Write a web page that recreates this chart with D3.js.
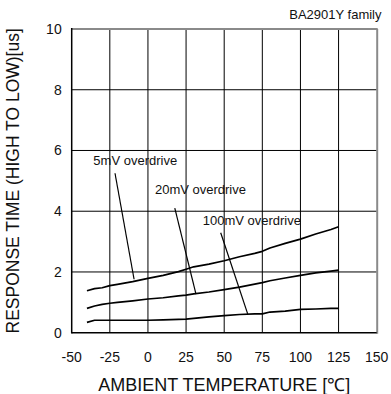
<!DOCTYPE html>
<html>
<head>
<meta charset="utf-8">
<script src="https://cdn.jsdelivr.net/npm/d3@7"></script>
<style>
  html, body { margin: 0; padding: 0; background: #fff; }
  svg { display: block; font-family: "Liberation Sans", Arial, sans-serif; }
</style>
</head>
<body>
<svg id="chart" width="391" height="394"></svg>
<script>
// ---- data ----
const temps = [-40, -35, -30, -25, -20, -10, 0, 10, 20, 25, 30, 40, 50, 60, 70, 75, 80, 90, 100, 110, 120, 125];
const resp5mV = [1.38, 1.45, 1.48, 1.55, 1.59, 1.68, 1.79, 1.89, 2.01, 2.09, 2.17, 2.26, 2.37, 2.50, 2.61, 2.68, 2.79, 2.94, 3.08, 3.25, 3.40, 3.49];
const resp20mV = [0.80, 0.88, 0.93, 0.97, 1.00, 1.05, 1.11, 1.15, 1.21, 1.24, 1.28, 1.34, 1.42, 1.50, 1.60, 1.65, 1.71, 1.80, 1.89, 1.97, 2.03, 2.06];
const resp100mV = [0.34, 0.41, 0.41, 0.41, 0.41, 0.41, 0.41, 0.42, 0.44, 0.45, 0.47, 0.52, 0.56, 0.60, 0.62, 0.62, 0.68, 0.71, 0.77, 0.78, 0.80, 0.80];
const seriesNames = ["5mV overdrive", "20mV overdrive", "100mV overdrive"];
// label anchor (temp, value) and pointer line from/to (temp, value)
const labelPos = [[-35.8, 5.52], [4.6, 4.56], [35.9, 3.55]];
const pointerFrom = [[-21.6, 5.25], [17.6, 4.10], [47.7, 3.29]];
const pointerTo = [[-9.1, 1.76], [31.5, 1.27], [65.4, 0.62]];
const xTicks = [-50, -25, 0, 25, 50, 75, 100, 125, 150];
const yTicks = [0, 2, 4, 6, 8, 10];
const xTitle = "AMBIENT TEMPERATURE [℃]";
const yTitle = "RESPONSE TIME (HIGH TO LOW)[us]";
const noteText = "BA2901Y  family";

// ---- drawing ----
const svg = d3.select("#chart");
const x = d3.scaleLinear().domain([-50, 150]).range([71.7, 376.7]);
const y = d3.scaleLinear().domain([0, 10]).range([332.7, 29]);
const ink = "#111";

// grid
const g = svg.append("g");
g.selectAll("line.vx").data(xTicks.slice(1, -1)).join("line")
  .attr("x1", d => x(d)).attr("x2", d => x(d))
  .attr("y1", y(0)).attr("y2", y(10))
  .attr("stroke", "#000").attr("stroke-width", 1);
g.selectAll("line.hy").data(yTicks.slice(1, -1)).join("line")
  .attr("x1", x(-50)).attr("x2", x(150))
  .attr("y1", d => y(d)).attr("y2", d => y(d))
  .attr("stroke", "#000").attr("stroke-width", 1);

// frame: top/right gray, left/bottom black
svg.append("line").attr("x1", x(-50)).attr("x2", x(150) + 1).attr("y1", y(10)).attr("y2", y(10))
  .attr("stroke", "#8a8a8a").attr("stroke-width", 2);
svg.append("line").attr("x1", x(150) + 0.5).attr("x2", x(150) + 0.5).attr("y1", y(10)).attr("y2", y(0) + 1)
  .attr("stroke", "#8a8a8a").attr("stroke-width", 2);
svg.append("line").attr("x1", x(-50)).attr("x2", x(-50)).attr("y1", y(10) - 1).attr("y2", y(0) + 0.75)
  .attr("stroke", "#000").attr("stroke-width", 1.5);
svg.append("line").attr("x1", x(-50)).attr("x2", x(150)).attr("y1", y(0)).attr("y2", y(0))
  .attr("stroke", "#000").attr("stroke-width", 1.5);

// tick labels
svg.append("g").selectAll("text").data(xTicks).join("text")
  .attr("x", d => x(d)).attr("y", 362.3)
  .attr("text-anchor", "middle").attr("font-size", 14).attr("fill", ink)
  .text(d => d);
svg.append("g").selectAll("text").data(yTicks).join("text")
  .attr("x", 61.7).attr("y", d => y(d) + 5)
  .attr("text-anchor", "end").attr("font-size", 14).attr("fill", ink)
  .text(d => d);

// curves
const allSeries = [resp5mV, resp20mV, resp100mV];
const line = d3.line().x(d => x(d[0])).y(d => y(d[1]));
svg.append("g").selectAll("path").data(allSeries).join("path")
  .attr("d", s => line(temps.map((t, i) => [t, s[i]])))
  .attr("fill", "none").attr("stroke", "#000").attr("stroke-width", 1.7)
  .attr("stroke-linejoin", "round");

// pointer lines
svg.append("g").selectAll("line").data(seriesNames).join("line")
  .attr("x1", (d, i) => x(pointerFrom[i][0])).attr("y1", (d, i) => y(pointerFrom[i][1]))
  .attr("x2", (d, i) => x(pointerTo[i][0])).attr("y2", (d, i) => y(pointerTo[i][1]))
  .attr("stroke", "#000").attr("stroke-width", 1.2);

// series labels
svg.append("g").selectAll("text").data(seriesNames).join("text")
  .attr("x", (d, i) => x(labelPos[i][0])).attr("y", (d, i) => y(labelPos[i][1]))
  .attr("font-size", 13).attr("fill", ink)
  .text(d => d);

// note top-right
svg.append("text").attr("x", 381.5).attr("y", 19).attr("text-anchor", "end")
  .attr("font-size", 13).attr("fill", ink).text(noteText);

// axis titles
svg.append("text").attr("x", (x(-50) + x(150)) / 2).attr("y", 391)
  .attr("text-anchor", "middle").attr("font-size", 18).attr("fill", ink).text(xTitle);
svg.append("text").attr("transform", `translate(19,${(y(0) + y(10)) / 2}) rotate(-90)`)
  .attr("text-anchor", "middle").attr("font-size", 17.5).attr("fill", ink).text(yTitle);
</script>
</body>
</html>
